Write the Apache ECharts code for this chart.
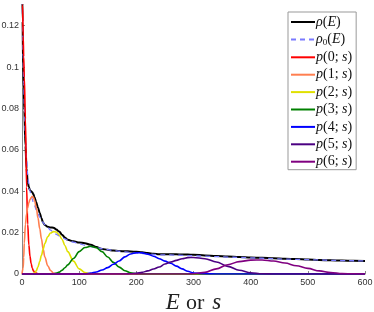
<!DOCTYPE html>
<html>
<head>
<meta charset="utf-8">
<script src="https://cdn.jsdelivr.net/npm/echarts@6/dist/echarts.min.js"></script>
<style>html,body{margin:0;padding:0;background:#fff;}#c{width:374px;height:312px;}</style>
</head>
<body>
<div id="c"></div>
<script>
// common abscissa (E or s)
const S = [0,1,2,3,4,6,8,10,12,14,16,18,20,22,25,28,31,34,37,40,45,50,55,60,65,70,75,80,90,100,110,120,130,140,150,160,170,180,190,200,210,220,230,240,250,260,270,280,290,300,320,340,360,380,400,420,440,460,480,500,520,540,560,580,600];

const rho = [0.15,0.122,0.10,0.09,0.079,0.062,0.051,0.0445,0.042,0.0405,0.040,0.0395,0.0385,0.037,0.0345,0.032,0.0295,0.027,0.0248,0.0237,0.0228,0.0225,0.0224,0.0215,0.0205,0.019,0.0176,0.0165,0.0158,0.0152,0.0149,0.0141,0.013,0.0121,0.0117,0.0113,0.0111,0.0110,0.0109,0.0107,0.0105,0.0101,0.0098,0.0096,0.0095,0.0095,0.0095,0.0094,0.0094,0.0093,0.009,0.0087,0.0084,0.0082,0.008,0.0078,0.0076,0.0074,0.0072,0.0070,0.0068,0.0066,0.0065,0.0064,0.0063];

const rho0 = [0.15,0.125,0.105,0.092,0.082,0.066,0.055,0.048,0.0435,0.040,0.038,0.036,0.0345,0.033,0.031,0.029,0.0275,0.026,0.0248,0.0238,0.0224,0.0212,0.0201,0.0192,0.0184,0.0177,0.017,0.0164,0.0154,0.0146,0.0139,0.0133,0.0127,0.0122,0.0118,0.0114,0.011,0.0107,0.0104,0.0101,0.0099,0.0097,0.0095,0.0093,0.0092,0.0092,0.0091,0.009,0.0089,0.0088,0.0086,0.0084,0.0082,0.008,0.0078,0.0076,0.0074,0.0072,0.0071,0.0069,0.0068,0.0066,0.0065,0.0064,0.0063];

const p0 = [0.15,0.13,0.115,0.105,0.095,0.075,0.042,0.024,0.014,0.0085,0.005,0.0028,0.0015,0.0009,0.0004,0.0001,0,0,0,0,0,0,0,0,0,0,0,0,0,0,0,0,0,0,0,0,0,0,0,0,0,0,0,0,0,0,0,0,0,0,0,0,0,0,0,0,0,0,0,0,0,0,0,0,0];

const p1 = [0,0,0.003,0.008,0.015,0.024,0.029,0.032,0.0345,0.036,0.037,0.0375,0.037,0.0355,0.032,0.027,0.022,0.017,0.012,0.0082,0.004,0.0017,0.0005,0.0001,0,0,0,0,0,0,0,0,0,0,0,0,0,0,0,0,0,0,0,0,0,0,0,0,0,0,0,0,0,0,0,0,0,0,0,0,0,0,0,0,0];

const p2 = [0,0,0,0,0,0,0,0,0,0,0,0.0001,0.0003,0.0005,0.0015,0.0035,0.006,0.009,0.012,0.0148,0.018,0.0198,0.0205,0.0203,0.019,0.0168,0.0138,0.0108,0.0062,0.0025,0.0007,0.0001,0,0,0,0,0,0,0,0,0,0,0,0,0,0,0,0,0,0,0,0,0,0,0,0,0,0,0,0,0,0,0,0,0];

const p3 = [0,0,0,0,0,0,0,0,0,0,0,0,0,0,0,0,0,0,0,0,0,0,0.0001,0.0004,0.0009,0.0018,0.003,0.0044,0.0075,0.0108,0.0128,0.0134,0.0127,0.0108,0.0082,0.0056,0.0033,0.0016,0.0006,0.0002,0,0,0,0,0,0,0,0,0,0,0,0,0,0,0,0,0,0,0,0,0,0,0,0,0];

const p4 = [0,0,0,0,0,0,0,0,0,0,0,0,0,0,0,0,0,0,0,0,0,0,0,0,0,0,0,0,0,0,0.0001,0.0004,0.001,0.0019,0.0031,0.0047,0.0063,0.0083,0.0097,0.0103,0.0102,0.0096,0.0086,0.0074,0.0062,0.0052,0.0038,0.0025,0.0013,0.0005,0.0001,0,0,0,0,0,0,0,0,0,0,0,0,0,0];

const p5 = [0,0,0,0,0,0,0,0,0,0,0,0,0,0,0,0,0,0,0,0,0,0,0,0,0,0,0,0,0,0,0,0,0,0,0,0,0,0,0.0001,0.0003,0.0008,0.0015,0.0024,0.0034,0.0048,0.0058,0.0066,0.0074,0.0079,0.008,0.0074,0.0058,0.0037,0.0018,0.0006,0.0001,0,0,0,0,0,0,0,0,0];

const p6 = [0,0,0,0,0,0,0,0,0,0,0,0,0,0,0,0,0,0,0,0,0,0,0,0,0,0,0,0,0,0,0,0,0,0,0,0,0,0,0,0,0,0,0,0,0,0,0,0,0,0.0001,0.0008,0.0025,0.0045,0.006,0.0067,0.0068,0.0063,0.0053,0.004,0.0027,0.0015,0.0007,0.0002,0.0001,0];

const yTicks = [0,0.02,0.04,0.06,0.08,0.1,0.12];
const xTicks = [0,100,200,300,400,500,600];

const names = ['ρ(E)','ρ0(E)','p(0; s)','p(1; s)','p(2; s)','p(3; s)','p(4; s)','p(5; s)','p(6; s)'];
const colors = ['#000000','#7a7aff','#ff0000','#ff7f50','#e0e000','#008000','#0000ff','#4b0082','#800080'];
const values = [rho, rho0, p0, p1, p2, p3, p4, p5, p6];

const richNames = {
  'ρ(E)': '{i|ρ}{r|(}{i|E}{r|)}',
  'ρ0(E)': '{i|ρ}{sub|0}{r|(}{i|E}{r|)}',
};
for (let k = 0; k <= 6; k++) richNames['p(' + k + '; s)'] = '{i|p}{r|(' + k + '; }{i|s}{r|)}';

const serif = 'Liberation Serif, DejaVu Serif, serif';
const chart = echarts.init(document.getElementById('c'), null, {renderer: 'canvas'});
chart.setOption({
  animation: false,
  grid: {left: 22, right: 9, top: 5, bottom: 38, containLabel: false, outerBoundsMode: 'none'},
  xAxis: {
    type: 'value', min: 0, max: 600, interval: 100,
    name: '{i|E}{r|or}{i|s}', nameLocation: 'middle', nameGap: 14,
    nameTextStyle: {rich: {
      i: {fontFamily: serif, fontStyle: 'italic', fontSize: 23, color: '#222'},
      r: {fontFamily: serif, fontSize: 22, color: '#222', padding: [0, 8, 0, 6]}
    }},
    axisLine: {show: true, lineStyle: {color: '#888', width: 1}},
    axisTick: {show: true, inside: true, length: 3, lineStyle: {color: '#888'}, customValues: xTicks},
    axisLabel: {fontFamily: 'Liberation Sans, Arial, sans-serif', fontSize: 9, color: '#333', margin: 4, customValues: xTicks},
    splitLine: {show: false}
  },
  yAxis: {
    type: 'value', min: 0, max: 0.13,
    axisLine: {show: true, lineStyle: {color: '#888', width: 1}},
    axisTick: {show: true, inside: true, length: 3, lineStyle: {color: '#888'}, customValues: yTicks},
    axisLabel: {fontFamily: 'Liberation Sans, Arial, sans-serif', fontSize: 9, color: '#333', margin: 3, customValues: yTicks},
    splitLine: {show: false}
  },
  legend: {
    orient: 'vertical', left: 288, top: 12,
    width: 70,
    padding: [3, 4, 1, 2],
    itemWidth: 24, itemHeight: 14, itemGap: 3.4,
    backgroundColor: '#fff', borderColor: '#999', borderWidth: 1, borderRadius: 0,
    itemStyle: {opacity: 0},
    data: names,
    formatter: function (n) { return richNames[n]; },
    textStyle: {
      padding: [0, 0, 0, -4],
      rich: {
        i: {fontFamily: serif, fontStyle: 'italic', fontSize: 14, color: '#111'},
        r: {fontFamily: serif, fontSize: 14, color: '#111'},
        sub: {fontFamily: serif, fontSize: 9, color: '#111', verticalAlign: 'bottom', padding: [6, 0, 0, 0]}
      }
    }
  },
  series: names.map(function (n, idx) {
    return {
      name: n, type: 'line', showSymbol: false, symbol: 'none',
      smooth: 0.35, smoothMonotone: 'x',
      data: S.map(function (x, j) { return [x, values[idx][j]]; }),
      lineStyle: {color: colors[idx], width: idx === 0 ? 2 : (idx === 1 ? 1.3 : 1.6), type: idx === 1 ? [5, 4] : 'solid'},
      itemStyle: {color: colors[idx]},
      z: 2 + idx
    };
  })
});
</script>
</body>
</html>
